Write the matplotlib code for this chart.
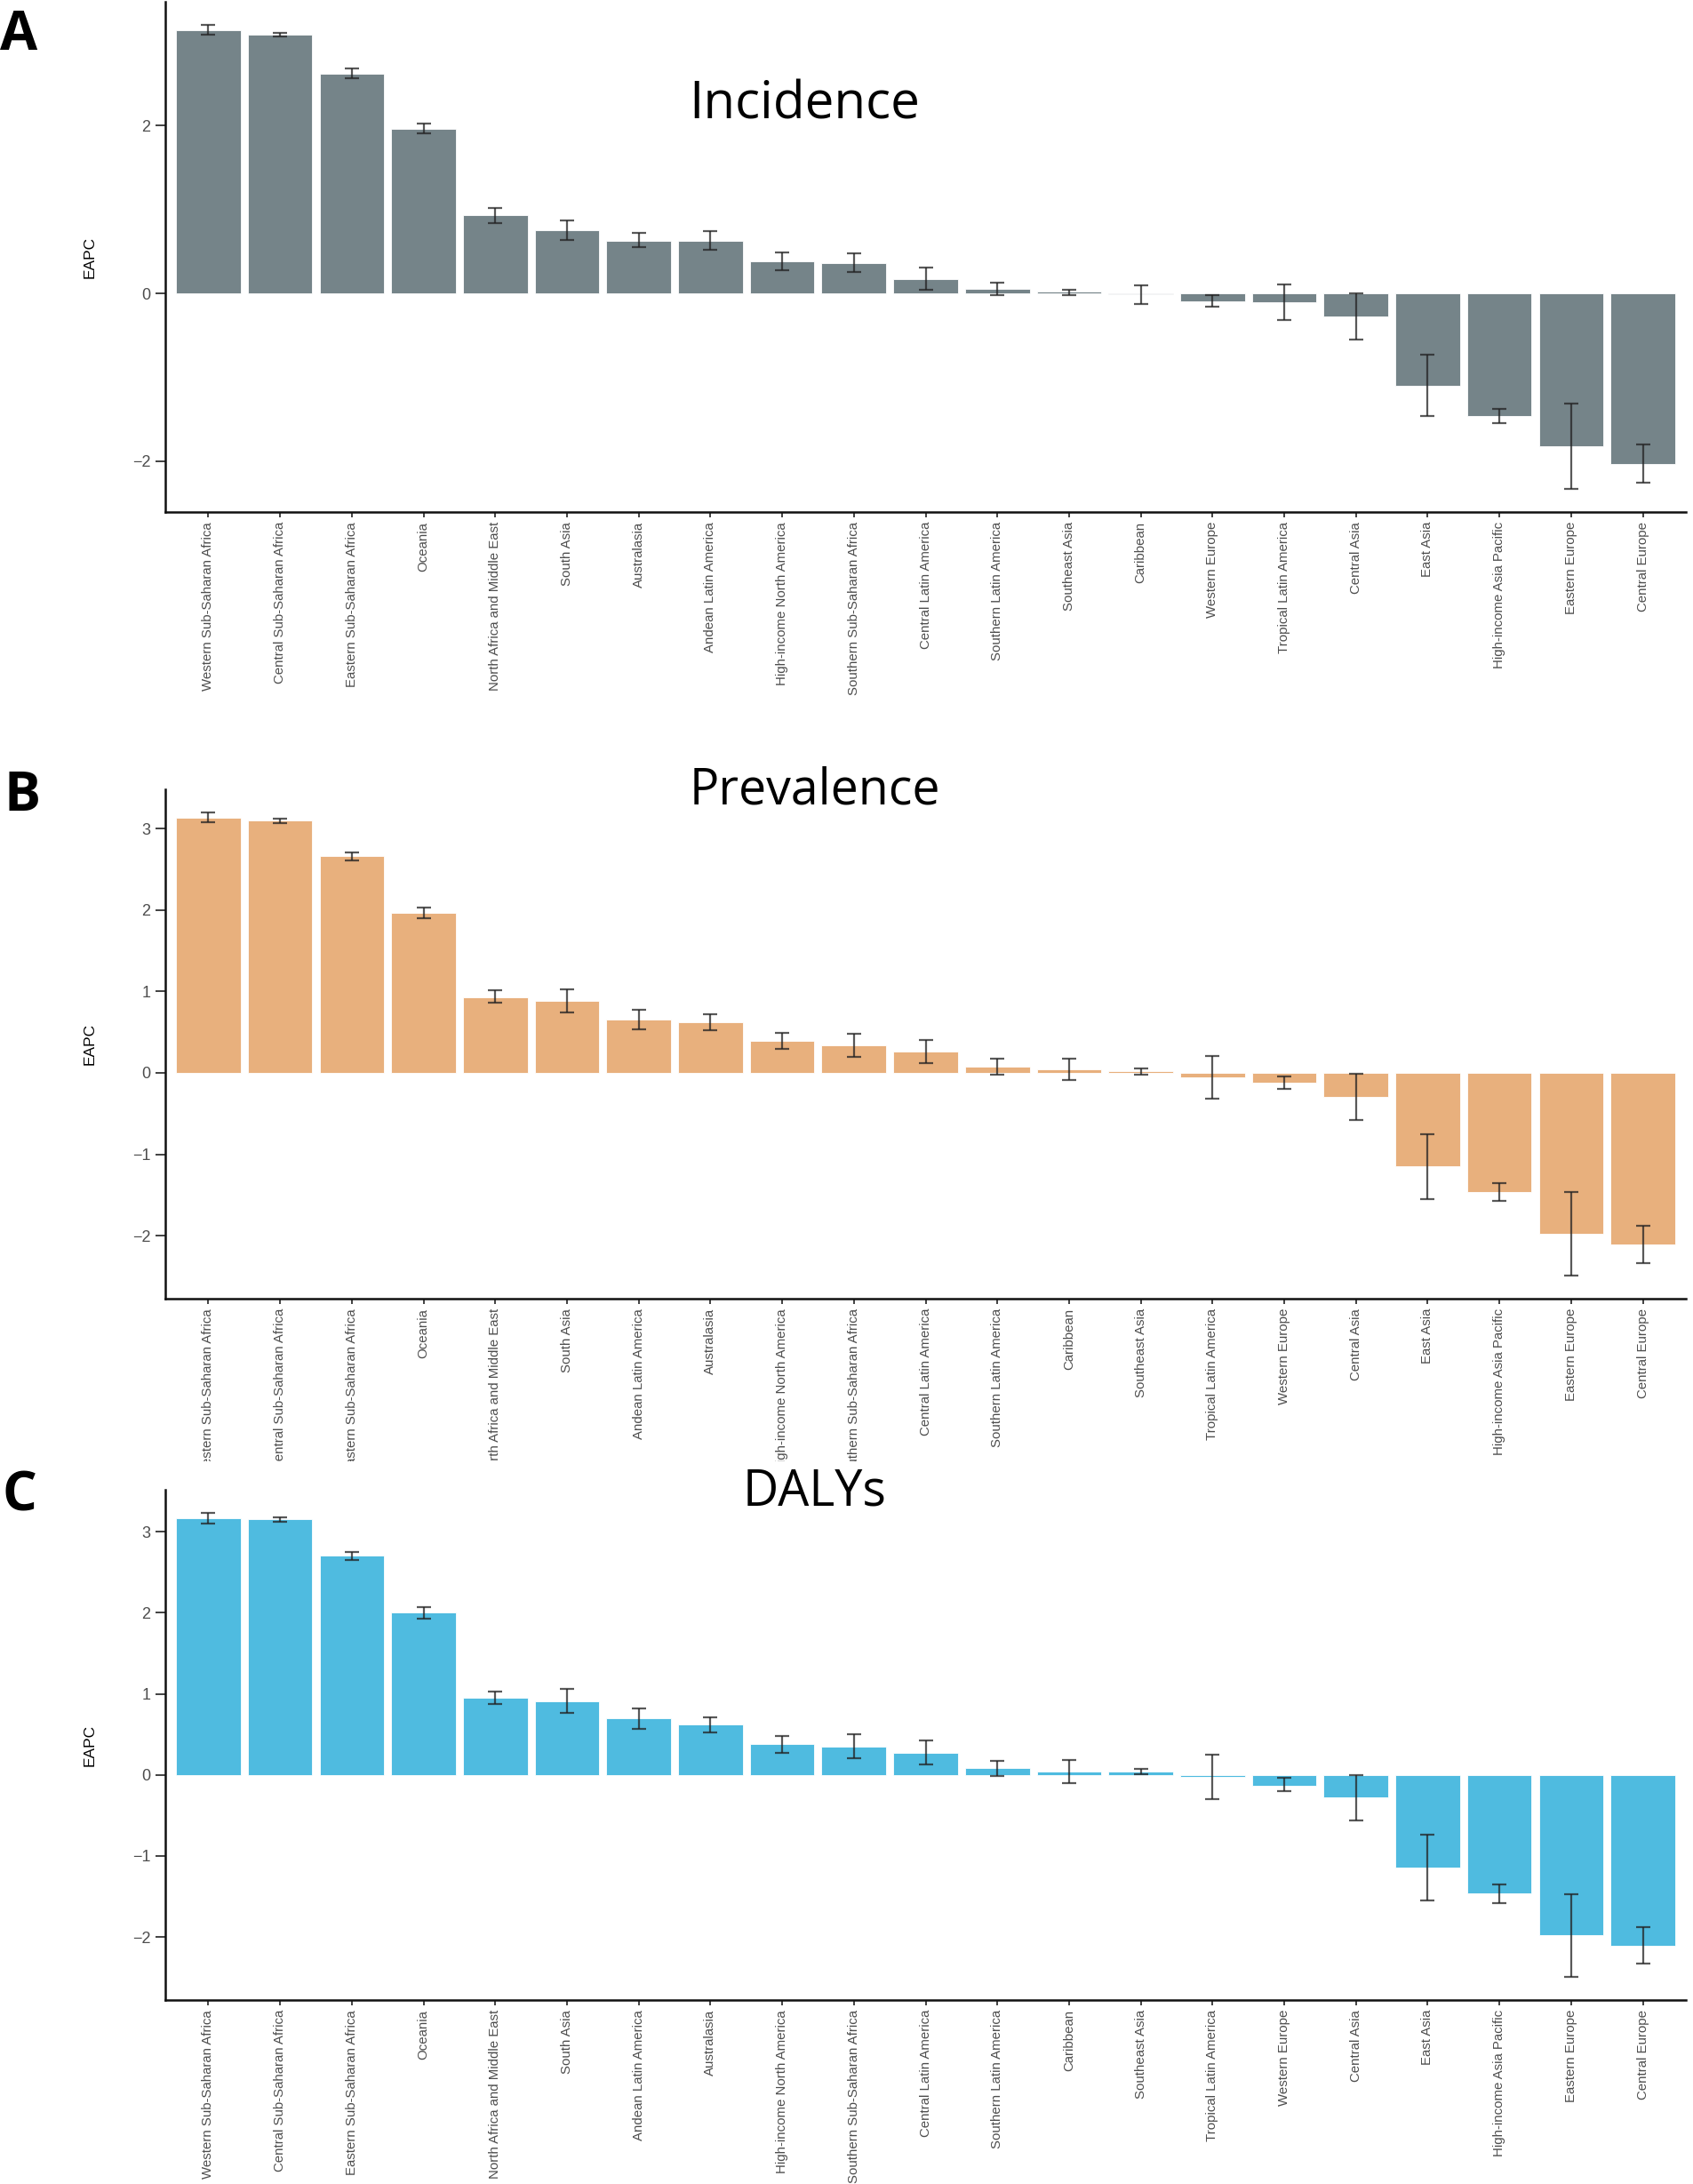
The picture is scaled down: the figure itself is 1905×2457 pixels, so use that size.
import matplotlib
matplotlib.use("Agg")
import matplotlib.pyplot as plt
from matplotlib.patches import Rectangle
import numpy as np

# ---------------- data ----------------
regions_incidence = ["Western Sub-Saharan Africa", "Central Sub-Saharan Africa", "Eastern Sub-Saharan Africa",
                     "Oceania", "North Africa and Middle East", "South Asia", "Australasia",
                     "Andean Latin America", "High-income North America", "Southern Sub-Saharan Africa",
                     "Central Latin America", "Southern Latin America", "Southeast Asia", "Caribbean",
                     "Western Europe", "Tropical Latin America", "Central Asia", "East Asia",
                     "High-income Asia Pacific", "Eastern Europe", "Central Europe"]
eapc_incidence = [3.14, 3.08, 2.62, 1.96, 0.93, 0.75, 0.63, 0.63, 0.38, 0.36, 0.17, 0.05, 0.02, -0.01,
                  -0.09, -0.11, -0.28, -1.10, -1.46, -1.82, -2.03]
low_incidence = [3.08, 3.06, 2.57, 1.91, 0.84, 0.64, 0.55, 0.52, 0.28, 0.25, 0.04, -0.02, -0.02, -0.13,
                 -0.16, -0.32, -0.55, -1.46, -1.55, -2.33, -2.26]
high_incidence = [3.20, 3.11, 2.68, 2.02, 1.02, 0.87, 0.72, 0.74, 0.49, 0.48, 0.31, 0.13, 0.04, 0.10,
                  -0.02, 0.11, 0.00, -0.73, -1.38, -1.31, -1.80]

regions_prevalence = ["Western Sub-Saharan Africa", "Central Sub-Saharan Africa", "Eastern Sub-Saharan Africa",
                      "Oceania", "North Africa and Middle East", "South Asia", "Andean Latin America",
                      "Australasia", "High-income North America", "Southern Sub-Saharan Africa",
                      "Central Latin America", "Southern Latin America", "Caribbean", "Southeast Asia",
                      "Tropical Latin America", "Western Europe", "Central Asia", "East Asia",
                      "High-income Asia Pacific", "Eastern Europe", "Central Europe"]
eapc_prevalence = [3.14, 3.10, 2.67, 1.97, 0.93, 0.89, 0.66, 0.62, 0.39, 0.34, 0.26, 0.08, 0.04, 0.02,
                   -0.05, -0.12, -0.29, -1.15, -1.46, -1.98, -2.11]
low_prevalence = [3.08, 3.07, 2.61, 1.90, 0.86, 0.74, 0.54, 0.52, 0.29, 0.20, 0.12, -0.02, -0.09, -0.02,
                  -0.32, -0.20, -0.58, -1.55, -1.57, -2.49, -2.34]
high_prevalence = [3.20, 3.12, 2.71, 2.03, 1.02, 1.03, 0.78, 0.72, 0.49, 0.48, 0.40, 0.17, 0.18, 0.05,
                   0.21, -0.04, -0.01, -0.75, -1.35, -1.46, -1.88]

regions_dalys = list(regions_prevalence)
eapc_dalys = [3.17, 3.15, 2.70, 2.00, 0.95, 0.91, 0.70, 0.62, 0.38, 0.35, 0.27, 0.08, 0.04, 0.04,
              -0.02, -0.13, -0.28, -1.14, -1.46, -1.98, -2.11]
low_dalys = [3.10, 3.12, 2.65, 1.93, 0.87, 0.77, 0.57, 0.52, 0.27, 0.21, 0.13, -0.01, -0.10, 0.01,
             -0.30, -0.20, -0.56, -1.55, -1.58, -2.49, -2.33]
high_dalys = [3.23, 3.18, 2.75, 2.07, 1.03, 1.06, 0.82, 0.71, 0.48, 0.50, 0.42, 0.17, 0.18, 0.07,
              0.25, -0.04, 0.00, -0.74, -1.35, -1.47, -1.88]

titles = ["Incidence", "Prevalence", "DALYs"]
panel_letters = ["A", "B", "C"]
yticks_A = [-2, 0, 2]
yticks_BC = [-2, -1, 0, 1, 2, 3]

# ---------------- styling / layout ----------------
W, H = 1905, 2457
fig = plt.figure(figsize=(W / 100, H / 100), dpi=100)
fig.patch.set_facecolor("white")

colors = ["#758489", "#E8B07D", "#4FBBE0"]
sans = ["Liberation Sans", "DejaVu Sans"]
title_font = ["Open Sans", "DejaVu Sans"]

# axes boxes in pixels: (top, bottom)
left_px, right_px = 186, 1897
boxes = [(2, 576), (888, 1461), (1676, 2250)]
title_pos = [(905, 134, 42), (917, 905, 40), (917, 1693, 40)]   # center x, baseline y, size
letter_pos = [(0, 56), (4, 912), (2, 1700)]

panels = [
    (regions_incidence, eapc_incidence, low_incidence, high_incidence, yticks_A),
    (regions_prevalence, eapc_prevalence, low_prevalence, high_prevalence, yticks_BC),
    (regions_dalys, eapc_dalys, low_dalys, high_dalys, yticks_BC),
]

for i, (regs, vals, lows, highs, yt) in enumerate(panels):
    top, bot = boxes[i]
    ax = fig.add_axes([left_px / W, 1 - bot / H, (right_px - left_px) / W, (bot - top) / H])
    ax.set_zorder(1 if i < 2 else 2)
    vals = np.array(vals)
    lows = np.array(lows)
    highs = np.array(highs)
    x = np.arange(len(regs))
    ax.bar(x, vals, width=0.9, color=colors[i], edgecolor="white", linewidth=0.6, zorder=2)
    ax.errorbar(x, vals, yerr=[vals - lows, highs - vals], fmt="none", ecolor="#222222",
                alpha=0.75, elinewidth=1.6, capsize=6, capthick=1.6, zorder=3)
    lo = min(lows.min(), 0)
    hi = max(highs.max(), 0)
    pad = 0.05 * (hi - lo)
    ax.set_ylim(lo - pad, hi + pad)
    ax.set_xlim(-0.6, len(regs) - 0.4)
    ax.set_xticks(x)
    ax.set_xticklabels(regs, rotation=90, family=sans, fontsize=10.8, color="#4D4D4D",
                       va="top", ha="center")
    ax.set_yticks(yt)
    ax.set_yticklabels([("\u2212%d" % abs(v)) if v < 0 else str(v) for v in yt],
                       family=sans, fontsize=13, color="#4D4D4D")
    ax.tick_params(axis="y", length=8, width=1.3, color="#333333", pad=4)
    ax.tick_params(axis="x", length=4, width=1.3, color="#333333", pad=4)
    for s in ["top", "right"]:
        ax.spines[s].set_visible(False)
    for s in ["left", "bottom"]:
        ax.spines[s].set_linewidth(1.8)
        ax.spines[s].set_color("#111111")
    ax.set_ylabel("EAPC", family=sans, fontsize=12.5, color="black")
    ax.yaxis.set_label_coords(-(186 - 109) / (right_px - left_px), 0.5)
    ax.set_facecolor("white")

    cx, by, fs = title_pos[i]
    fig.text(cx / W, 1 - by / H, titles[i], family=title_font, fontsize=fs, ha="center",
             va="baseline", color="black", zorder=5)
    lx, ly = letter_pos[i]
    fig.text(lx / W, 1 - ly / H, panel_letters[i], family=title_font, fontsize=44,
             fontweight="bold", ha="left", va="baseline", color="black", zorder=5)

# panel C's image area covers the lower part of panel B's tick labels
fig.add_artist(Rectangle((0, 1 - 1676 / H), 1, (1676 - 1644) / H, transform=fig.transFigure,
                         facecolor="white", edgecolor="none", zorder=1.5))

fig.savefig("out.png", dpi=100, facecolor="white")
